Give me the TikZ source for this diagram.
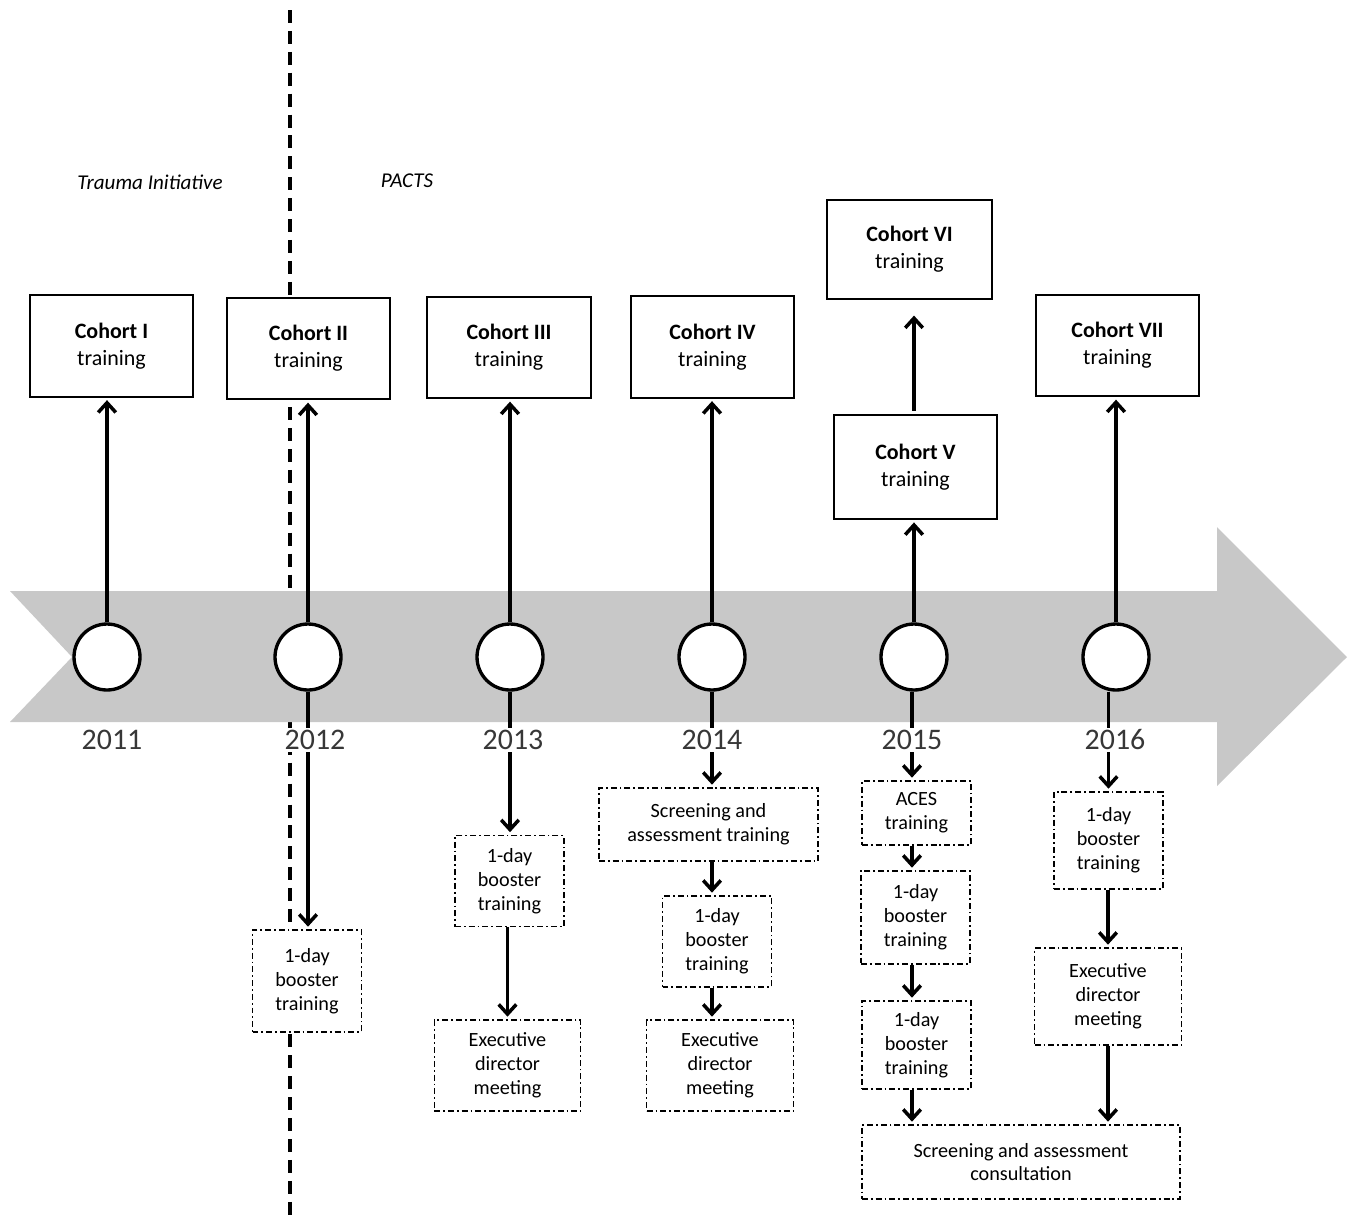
\documentclass[tikz,border=0pt]{standalone}
\usepackage{fontspec}
\setmainfont{Carlito}
\usetikzlibrary{arrows.meta}
\definecolor{bandgray}{RGB}{200,200,200}
\definecolor{yeartext}{RGB}{55,55,55}

\begin{document}
\begin{tikzpicture}[x=0.02cm, y=-0.02cm]
\tikzset{cohortbox/.style={draw, line width=0.9pt, fill=white, align=center, inner sep=2pt,
    minimum width=3.27cm, minimum height=2.03cm, font=\fontsize{12.5}{15.5}\selectfont}}
\tikzset{eventbox/.style={draw, line width=0.8pt, dash pattern=on 3.4pt off 1.7pt on 1pt off 1.7pt,
    fill=white, align=center, inner sep=2pt, minimum width=2.18cm, minimum height=1.82cm,
    font=\fontsize{11.5}{13.6}\selectfont}}
\tikzset{widebox/.style={eventbox, minimum width=2.93cm}}
\tikzset{yearnode/.style={draw, circle, line width=1.9pt, fill=white, minimum size=1.32cm}}
\tikzset{yearlabel/.style={fill=white, inner sep=1pt, text=yeartext, font=\fontsize{17}{19}\selectfont}}
\tikzset{flow/.style={line width=2pt, -{Straight Barb[length=5.5pt, width=10pt]}, shorten >=1.5pt}}
\useasboundingbox (0,0) rectangle (1357,1218);
% divider between the two programmes
\coordinate (divtop) at (290,10);
\coordinate (divbot) at (290,1218);
\draw[line width=2pt, dash pattern=on 7.4pt off 4.5pt] (divtop) -- (divbot);
\node[font=\fontsize{12}{14}\selectfont\itshape] (trauma) at (150,182) {Trauma Initiative};
\node[font=\fontsize{12}{14}\selectfont\itshape] (pacts) at (407,181) {PACTS};
% time arrow
\fill[bandgray] (10,591) -- (1217,591) -- (1217,527) -- (1347,657) -- (1217,786)
  -- (1217,722) -- (10,722) -- (72,657) -- cycle;
% years
\node[yearnode] (t1) at (107,657) {};
\node[yearnode] (t2) at (308,657) {};
\node[yearnode] (t3) at (510,657) {};
\node[yearnode] (t4) at (712,657) {};
\node[yearnode] (t5) at (914,657) {};
\node[yearnode] (t6) at (1116,657) {};
% cohort trainings
\node[cohortbox] (c1) at (111.5,346) {\textbf{Cohort I}\\training};
\node[cohortbox] (c2) at (308.5,348.5) {\textbf{Cohort II}\\training};
\node[cohortbox] (c3) at (509,347.5) {\textbf{Cohort III}\\training};
\node[cohortbox] (c4) at (712.5,347) {\textbf{Cohort IV}\\training};
\node[cohortbox, minimum height=2.08cm] (c5) at (915.5,467) {\textbf{Cohort V}\\training};
\node[cohortbox, minimum width=3.3cm, minimum height=1.98cm] (c6) at (909.5,249.5) {\textbf{Cohort VI}\\training};
\node[cohortbox] (c7) at (1117.5,345.5) {\textbf{Cohort VII}\\training};
% other events
\node[eventbox, minimum height=2.04cm] (b12) at (307,981) {1-day\\booster\\training};
\node[eventbox] (b13a) at (509.5,881) {1-day\\booster\\training};
\node[widebox] (b13b) at (507.5,1065.5) {Executive\\director\\meeting};
\node[eventbox, minimum width=4.38cm, minimum height=1.46cm] (b14a) at (708.5,824.5) {Screening and\\assessment training};
\node[eventbox] (b14b) at (717,941.5) {1-day\\booster\\training};
\node[widebox] (b14c) at (720,1065.5) {Executive\\director\\meeting};
\node[eventbox, minimum height=1.28cm] (b15a) at (916.5,813) {ACES\\training};
\node[eventbox, minimum height=1.86cm] (b15b) at (915.5,917.5) {1-day\\booster\\training};
\node[eventbox, minimum height=1.76cm] (b15c) at (916.5,1045) {1-day\\booster\\training};
\node[eventbox, minimum height=1.94cm] (b16a) at (1108.5,840.5) {1-day\\booster\\training};
\node[widebox, minimum height=1.94cm] (b16b) at (1108,996.5) {Executive\\director\\meeting};
\node[eventbox, minimum width=6.36cm, minimum height=1.48cm] (cons) at (1021,1162) {Screening and assessment\\consultation};
% connectors up
\draw[flow] (t1.north) -- (t1.north |- c1.south);
\draw[flow] (t2.north) -- (t2.north |- c2.south);
\draw[flow] (t3.north) -- (t3.north |- c3.south);
\draw[flow] (t4.north) -- (t4.north |- c4.south);
\draw[flow] (t5.north) -- (t5.north |- c5.south);
\draw[flow, shorten >=9pt, shorten <=2pt] (c5.north -| t5.north) -- (c6.south -| t5.north);
\draw[flow] (t6.north) -- (t6.north |- c7.south);
% connectors down
\draw[flow] (t2.south) -- (t2.south |- b12.north);
\draw[flow] (t3.south) -- (t3.south |- b13a.north);
\draw[flow] (b13a.south -| b13b.north) -- (b13b.north);
\draw[flow] (t4.south) -- (t4.south |- b14a.north);
\draw[flow] (b14a.south -| t4.south) -- (b14b.north -| t4.south);
\draw[flow] (b14b.south -| t4.south) -- (b14c.north -| t4.south);
\draw[flow] (t5.south -| 912,0) -- (b15a.north -| 912,0);
\draw[flow] (b15a.south -| 912,0) -- (b15b.north -| 912,0);
\draw[flow] (b15b.south -| 912,0) -- (b15c.north -| 912,0);
\draw[flow] (b15c.south -| 912,0) -- (cons.north -| 912,0);
\draw[flow] (t6.south -| b16a.north) -- (b16a.north);
\draw[flow] (b16a.south -| b16b.north) -- (b16b.north);
\draw[flow] (b16b.south) -- (b16b.south |- cons.north);
% year labels
\node[yearlabel] (y1) at (112,740) {2011};
\node[yearlabel] (y2) at (315,740) {2012};
\node[yearlabel] (y3) at (513,740) {2013};
\node[yearlabel] (y4) at (712,740) {2014};
\node[yearlabel] (y5) at (912,740) {2015};
\node[yearlabel] (y6) at (1115,740) {2016};
\end{tikzpicture}
\end{document}
